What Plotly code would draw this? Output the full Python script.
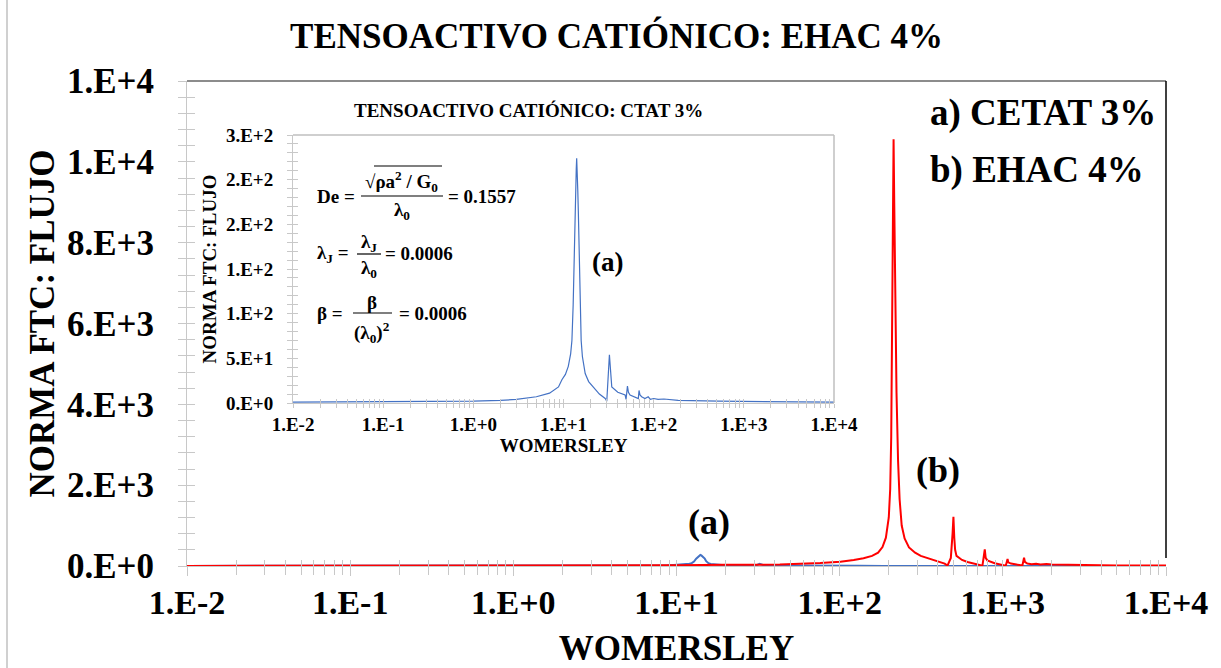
import plotly.graph_objects as go

# ---------------- data ----------------
# (a) CTAT 3% : blue series
blue_x = [0.01, 0.1, 1, 2, 3, 5, 7, 8.8, 9.6, 10.5, 11.3, 12.0, 12.4, 12.8, 13.2, 13.5,
          13.7, 13.85, 14.0, 14.2, 14.4, 14.6, 14.9, 15.2, 15.7, 16.2, 17.4, 19, 22.4, 25,
          29, 30.2, 32.3, 33.2, 34.3, 40, 48.2, 49.4, 51.2, 52.5, 54.7,
          67.6, 68.8, 70.5, 73.6, 80, 87, 92, 100, 112, 130, 187, 525, 10000]
blue_y = [1, 1.2, 2, 3, 4, 7, 11, 18, 26, 32, 41, 55, 70, 110, 182, 215,
          238, 262, 274, 262, 238, 215, 182, 120, 70, 52, 33, 24, 15, 10,
          5, 2, 54, 30, 18, 12, 9, 4, 19, 12, 9,
          5, 14, 9, 7, 5, 7, 4, 5, 4, 4.5, 3, 2, 1]

# (b) EHAC 4% : red series
red_x = [0.01, 0.1, 1, 5, 10, 20, 43, 76, 101, 122, 140, 158, 172, 183, 192, 200, 204,
         207, 210, 212, 214, 216, 219, 223, 228, 233, 240, 250, 266, 290, 314, 350, 388,
         417, 440, 458, 480, 492, 498, 504, 510, 520, 562, 607, 680, 750, 765, 775, 785,
         803, 891, 1017, 1042, 1060, 1069, 1080, 1122, 1318, 1340, 1349, 1365, 1413, 1500,
         1600, 1700, 1850, 2000, 2300, 3000, 5000, 10000]
red_y = [2, 4, 8, 15, 20, 28, 35, 74, 107, 148, 190, 250, 330, 470, 700, 1200, 1900,
         3200, 6000, 9000, 10560, 9000, 6500, 4300, 2600, 1650, 1000, 680, 460, 330, 250, 190, 148,
         107, 60, 10, 200, 800, 1220, 700, 400, 250, 150, 100, 60, 8, 250, 412, 200,
         140, 70, 33, 8, 120, 173, 90, 60, 12, 150, 206, 100, 60, 45,
         55, 40, 48, 35, 30, 25, 15, 10]

x_tick_vals = [0.01, 0.1, 1, 10, 100, 1000, 10000]
x_tick_text = ["1.E-2", "1.E-1", "1.E+0", "1.E+1", "1.E+2", "1.E+3", "1.E+4"]
main_y_tick_vals = [0, 2000, 4000, 6000, 8000, 10000, 12000]
main_y_tick_text = ["0.E+0", "2.E+3", "4.E+3", "6.E+3", "8.E+3", "1.E+4", "1.E+4"]
inset_y_tick_vals = [0, 50, 100, 150, 200, 250, 300]
inset_y_tick_text = ["0.E+0", "5.E+1", "1.E+2", "1.E+2", "2.E+2", "2.E+2", "3.E+2"]

title_text = "TENSOACTIVO CATIÓNICO: EHAC 4%"
inset_title_text = "TENSOACTIVO CATIÓNICO: CTAT 3%"
x_title = "WOMERSLEY"
y_title = "NORMA FTC: FLUJO"
legend_a = "a) CETAT 3%"
legend_b = "b) EHAC 4%"

# ---------------- layout helpers ----------------
W, H = 1221, 668
L, R, T, B = 187, 1166, 81, 566
FONT = "Liberation Serif"
TICKC = "#c8c8c8"


def px(x):
    return (x - L) / (R - L)


def py(y):
    return (B - y) / (B - T)


minor_x = [m * 10 ** k for k in range(-2, 4) for m in range(2, 10)]


def f(size, color="black"):
    return dict(family=FONT, size=size, color=color, weight="bold")


fig = go.Figure()
fig.add_trace(go.Scatter(x=blue_x, y=blue_y, mode="lines", line=dict(color="#4472C4", width=2),
                         xaxis="x", yaxis="y", showlegend=False, hoverinfo="skip"))
fig.add_trace(go.Scatter(x=red_x, y=red_y, mode="lines", line=dict(color="#FF0000", width=2),
                         xaxis="x", yaxis="y", showlegend=False, hoverinfo="skip"))
fig.add_trace(go.Scatter(x=blue_x, y=blue_y, mode="lines", line=dict(color="#4472C4", width=1.2),
                         xaxis="x2", yaxis="y2", showlegend=False, hoverinfo="skip"))
# empty traces to activate overlay tick axes
fig.add_trace(go.Scatter(x=[], y=[], xaxis="x3", yaxis="y3", showlegend=False))
fig.add_trace(go.Scatter(x=[], y=[], xaxis="x4", yaxis="y4", showlegend=False))

ix0, ix1 = px(293), px(834)
iy0, iy1 = py(403), py(135)

common_x = dict(type="log", range=[-2, 4], tickmode="array", tickvals=x_tick_vals,
                showgrid=False, zeroline=False, automargin=False)

fig.update_layout(
    width=W, height=H,
    margin=dict(l=L, r=W - R, t=T, b=H - B, pad=0),
    paper_bgcolor="white", plot_bgcolor="white",
    showlegend=False,
    title=dict(text=title_text, font=f(35), x=0.505, xref="container", xanchor="center",
               y=1 - 36 / H, yref="container", yanchor="middle"),
    # main x: inside ticks carry the labels, overlay adds the outside half
    xaxis=dict(**common_x, domain=[0, 1], anchor="y", ticktext=x_tick_text,
               ticks="inside", ticklen=6, tickcolor=TICKC, tickwidth=1,
               minor=dict(tickmode="array", tickvals=minor_x, ticks="inside", ticklen=6,
                          tickcolor=TICKC),
               showline=True, linecolor=TICKC, linewidth=1,
               tickfont=f(34), ticklabelstandoff=6,
               title=dict(text=x_title, font=f(35), standoff=18)),
    yaxis=dict(range=[0, 12000], domain=[0, 1], anchor="x", tickmode="array",
               tickvals=main_y_tick_vals, ticktext=main_y_tick_text,
               ticks="outside", ticklen=8, tickcolor=TICKC,
               minor=dict(dtick=400, ticks="outside", ticklen=8, tickcolor=TICKC),
               showline=True, linecolor=TICKC, showgrid=False, zeroline=False,
               automargin=False,
               tickfont=f(35), ticklabelstandoff=17,
               title=dict(text=y_title, font=f(35), standoff=1)),
    xaxis3=dict(**common_x, overlaying="x", anchor="y3", ticks="outside", ticklen=9,
                tickcolor=TICKC,
                minor=dict(tickmode="array", tickvals=minor_x, ticks="outside", ticklen=8,
                           tickcolor=TICKC),
                showticklabels=False, showline=False),
    yaxis3=dict(range=[0, 12000], overlaying="y", anchor="x3", side="left",
                tickmode="array", tickvals=main_y_tick_vals, ticks="inside", ticklen=8,
                tickcolor=TICKC, automargin=False,
                minor=dict(dtick=400, ticks="inside", ticklen=8, tickcolor=TICKC),
                showticklabels=False, showline=False, showgrid=False, zeroline=False),
    xaxis2=dict(**common_x, domain=[ix0, ix1], anchor="y2", ticktext=x_tick_text,
                ticks="inside", ticklen=4, tickcolor=TICKC,
                minor=dict(tickmode="array", tickvals=minor_x, ticks="inside", ticklen=4,
                           tickcolor=TICKC),
                showline=True, linecolor=TICKC, tickfont=f(19), ticklabelstandoff=4,
                title=dict(text=x_title, font=f(19), standoff=2)),
    yaxis2=dict(range=[0, 300], domain=[iy0, iy1], anchor="x2", tickmode="array",
                tickvals=inset_y_tick_vals, ticktext=inset_y_tick_text,
                ticks="outside", ticklen=5, tickcolor=TICKC,
                minor=dict(dtick=10, ticks="outside", ticklen=5, tickcolor=TICKC),
                showline=True, linecolor=TICKC, showgrid=False, zeroline=False,
                automargin=False,
                tickfont=f(19), ticklabelstandoff=10,
                title=dict(text=y_title, font=f(19), standoff=4)),
    xaxis4=dict(**common_x, overlaying="x2", anchor="y4", ticks="outside", ticklen=4,
                tickcolor=TICKC,
                minor=dict(tickmode="array", tickvals=minor_x, ticks="outside", ticklen=4,
                           tickcolor=TICKC),
                showticklabels=False, showline=False),
    yaxis4=dict(range=[0, 300], overlaying="y2", anchor="x4", side="left",
                tickmode="array", tickvals=inset_y_tick_vals, ticks="inside", ticklen=5,
                tickcolor=TICKC, automargin=False,
                minor=dict(dtick=10, ticks="inside", ticklen=5, tickcolor=TICKC),
                showticklabels=False, showline=False, showgrid=False, zeroline=False),
)

shapes = []


def hline(x0, x1, y, color="black", width=1.2):
    shapes.append(dict(type="line", xref="paper", yref="paper", x0=px(x0), x1=px(x1),
                       y0=py(y), y1=py(y), line=dict(color=color, width=width)))


def vline(x, y0, y1, color="black", width=1.2):
    shapes.append(dict(type="line", xref="paper", yref="paper", x0=px(x), x1=px(x),
                       y0=py(y0), y1=py(y1), line=dict(color=color, width=width)))


# main frame: gray top, black right, page left edge
hline(L, R, T, "#8c8c8c", 2)
vline(R, T, 558, "black", 1.5)
vline(7, 0, H, "#d0d0d0", 2)
# inset frame
hline(293, 834, 135, "#bfbfbf", 1.5)
vline(834, 135, 403, "#bfbfbf", 1.5)
# fraction bars
hline(361, 443, 196)
hline(374, 442, 166)
hline(357, 381, 254)
hline(353, 392, 313)

annotations = []


def ann(text, x, y, size, xanchor="center", yanchor="middle"):
    annotations.append(dict(text=text, x=px(x), y=py(y), xref="paper", yref="paper",
                            xanchor=xanchor, yanchor=yanchor, showarrow=False, font=f(size)))


ann(legend_a, 928, 113, 37, "left")
ann(legend_b, 928, 170, 37, "left")
ann("(a)", 709, 522, 36)
ann("(b)", 938, 470, 36)
ann("(a)", 607, 262, 27)
ann(inset_title_text, 528, 110, 19)
# equations
ann("De =", 315, 196, 19, "left")
ann("√ρa<sup>2</sup> / G<sub>0</sub>", 401, 181, 19)
ann("λ<sub>0</sub>", 402, 211, 19)
ann("= 0.1557", 446, 196, 19, "left")
ann("λ<sub>J</sub> =", 315, 254, 19, "left")
ann("λ<sub>J</sub>", 369, 243, 19)
ann("λ<sub>0</sub>", 369, 269, 19)
ann("= 0.0006", 383, 254, 19, "left")
ann("β =", 315, 313, 19, "left")
ann("β", 372, 302, 19)
ann("(λ<sub>0</sub>)<sup>2</sup>", 372, 332, 19)
ann("= 0.0006", 397, 313, 19, "left")

fig.update_layout(shapes=shapes, annotations=annotations)
fig.write_html("out.html", config={"displayModeBar": False},
               post_script="document.body.style.margin='0px';document.body.style.overflow='hidden';")
